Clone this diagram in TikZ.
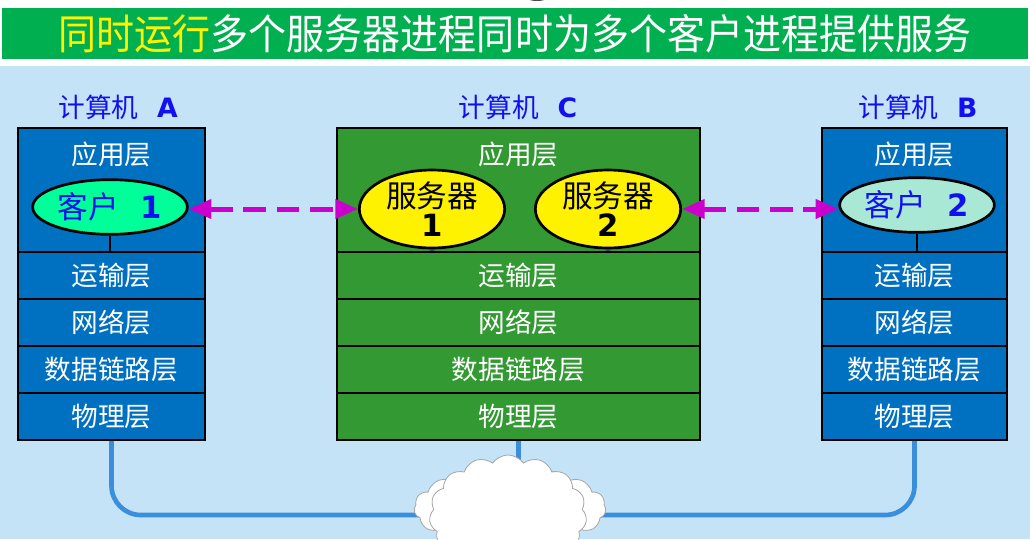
\documentclass[tikz,border=0pt]{standalone}
\usepackage{fontspec}
\setmainfont{Noto Sans CJK SC}
\newfontfamily\latinbf{DejaVu Sans Bold}
\usetikzlibrary{shapes.geometric,shapes.symbols,arrows.meta}

\definecolor{skyblue}{HTML}{C5E3F7}
\definecolor{titlegreen}{HTML}{00B050}
\definecolor{stackblue}{HTML}{0070C0}
\definecolor{stackgreen}{HTML}{339933}
\definecolor{clientA}{HTML}{00FF99}
\definecolor{clientB}{HTML}{A9E8D4}
\definecolor{labelblue}{HTML}{1010F0}
\definecolor{linkpink}{HTML}{CC00CC}
\definecolor{netblue}{HTML}{3A8EDB}
\definecolor{stemblue}{HTML}{333399}

\tikzset{
  layer/.style={draw=black, line width=1.5pt, text=white, inner sep=0pt,
    font=\fontsize{20}{24}\selectfont},
  layertext/.style={text=white, font=\fontsize{20}{24}\selectfont},
  pclabel/.style={text=labelblue, font=\fontsize{20}{24}\selectfont},
  client/.style={ellipse, draw=black, line width=2pt, text=labelblue, inner sep=0pt,
    minimum width=116pt, minimum height=41pt, font=\fontsize{23}{26}\selectfont},
  server/.style={ellipse, draw=black, line width=2pt, fill=yellow, inner sep=0pt,
    minimum width=109pt, minimum height=56pt, align=center,
    font=\fontsize{23}{24}\selectfont},
  stem/.style={line width=2pt},
  conn/.style={draw=linkpink, line width=3.75pt, dash pattern=on 17pt off 8pt,
    {Triangle[length=17pt,width=14pt]}-{Triangle[length=17pt,width=14pt]}},
  net/.style={draw=netblue, line width=3.5pt},
  cloudnode/.style={cloud, cloud puffs=15, cloud puff arc=110, draw=gray!70,
    fill=white, line width=0.6pt}
}

\begin{document}
\begin{tikzpicture}[x=0.75pt,y=-0.75pt]
  \useasboundingbox (0,0) rectangle (1030,539);
  \clip (0,0) rectangle (1030,539);
  \fill[white] (0,0) rectangle (1030,539);
  \fill[skyblue] (0,66) rectangle (1030,539);
  \fill[gray!60!black] (537,-10) ellipse (18 and 11);

  % title
  \node[fill=titlegreen, minimum width=769.5pt, minimum height=38pt, inner sep=0pt,
    font=\fontsize{31}{34}\selectfont] (title) at (515,33.5)
    {\scalebox{0.92}[1]{\textcolor{yellow}{同时运行}\textcolor{white}{多个服务器进程同时为多个客户进程提供服务}}};

  % three protocol stacks
  \foreach \n/\x/\w/\c in {A/111.5/140.25/stackblue, C/518.5/272.25/stackgreen, B/914.5/138.75/stackblue}{
    \node[layer, fill=\c, minimum width=\w pt, minimum height=93pt] (\n-app) at (\x,190) {};
    \node[layertext] (\n-apptext) at (\x,154) {应用层};
    \foreach \k/\t/\y in {tr/运输层/275.5, nw/网络层/322.5, dl/数据链路层/369.5, ph/物理层/416.5}
      \node[layer, fill=\c, minimum width=\w pt, minimum height=35.25pt] (\n-\k) at (\x,\y) {\t};
  }
  \node[pclabel] (A-name) at (118,107) {计算机\hspace{0.7em}{\latinbf A}};
  \node[pclabel] (C-name) at (518,107) {计算机\hspace{0.7em}{\latinbf C}};
  \node[pclabel] (B-name) at (918,107) {计算机\hspace{0.7em}{\latinbf B}};

  % processes
  \node[client, fill=clientA] (c1) at (110,207) {客户\hspace{0.7em}{\latinbf 1}};
  \node[server] (s1) at (432,209) {服务器\\[-2pt]{\latinbf 1}};
  \node[server] (s2) at (608,209) {服务器\\[-2pt]{\latinbf 2}};
  \node[client, fill=clientB] (c2) at (917,205) {客户\hspace{0.7em}{\latinbf 2}};

  \draw[stem] (c1.south) -- (c1.south |- A-tr.north);
  \draw[stem] (c2.south) -- (c2.south |- B-tr.north);
  \draw[stem, draw=stemblue, line width=2.5pt] (s1.south) -- (s1.south |- C-tr.north);
  \draw[stem, draw=stemblue, line width=2.5pt] (s2.south) -- (s2.south |- C-tr.north);

  \draw[conn] (c1.east |- s1.west) -- (s1.west);
  \draw[conn] (s2.east) -- (s2.east -| c2.west);

  % network
  \coordinate (hub) at (512,515);
  \draw[net, rounded corners=22pt] (A-ph.south) |- (hub);
  \draw[net, rounded corners=22pt] (B-ph.south) |- (hub);
  \draw[net] (C-ph.south) -- (C-ph.south |- hub);
  \node[cloudnode, minimum width=144pt, minimum height=62pt] (cloudback) at (510,508) {};
  \node[cloudnode, minimum width=118pt, minimum height=90pt] (cloud) at (508,515) {};
\end{tikzpicture}
\end{document}
